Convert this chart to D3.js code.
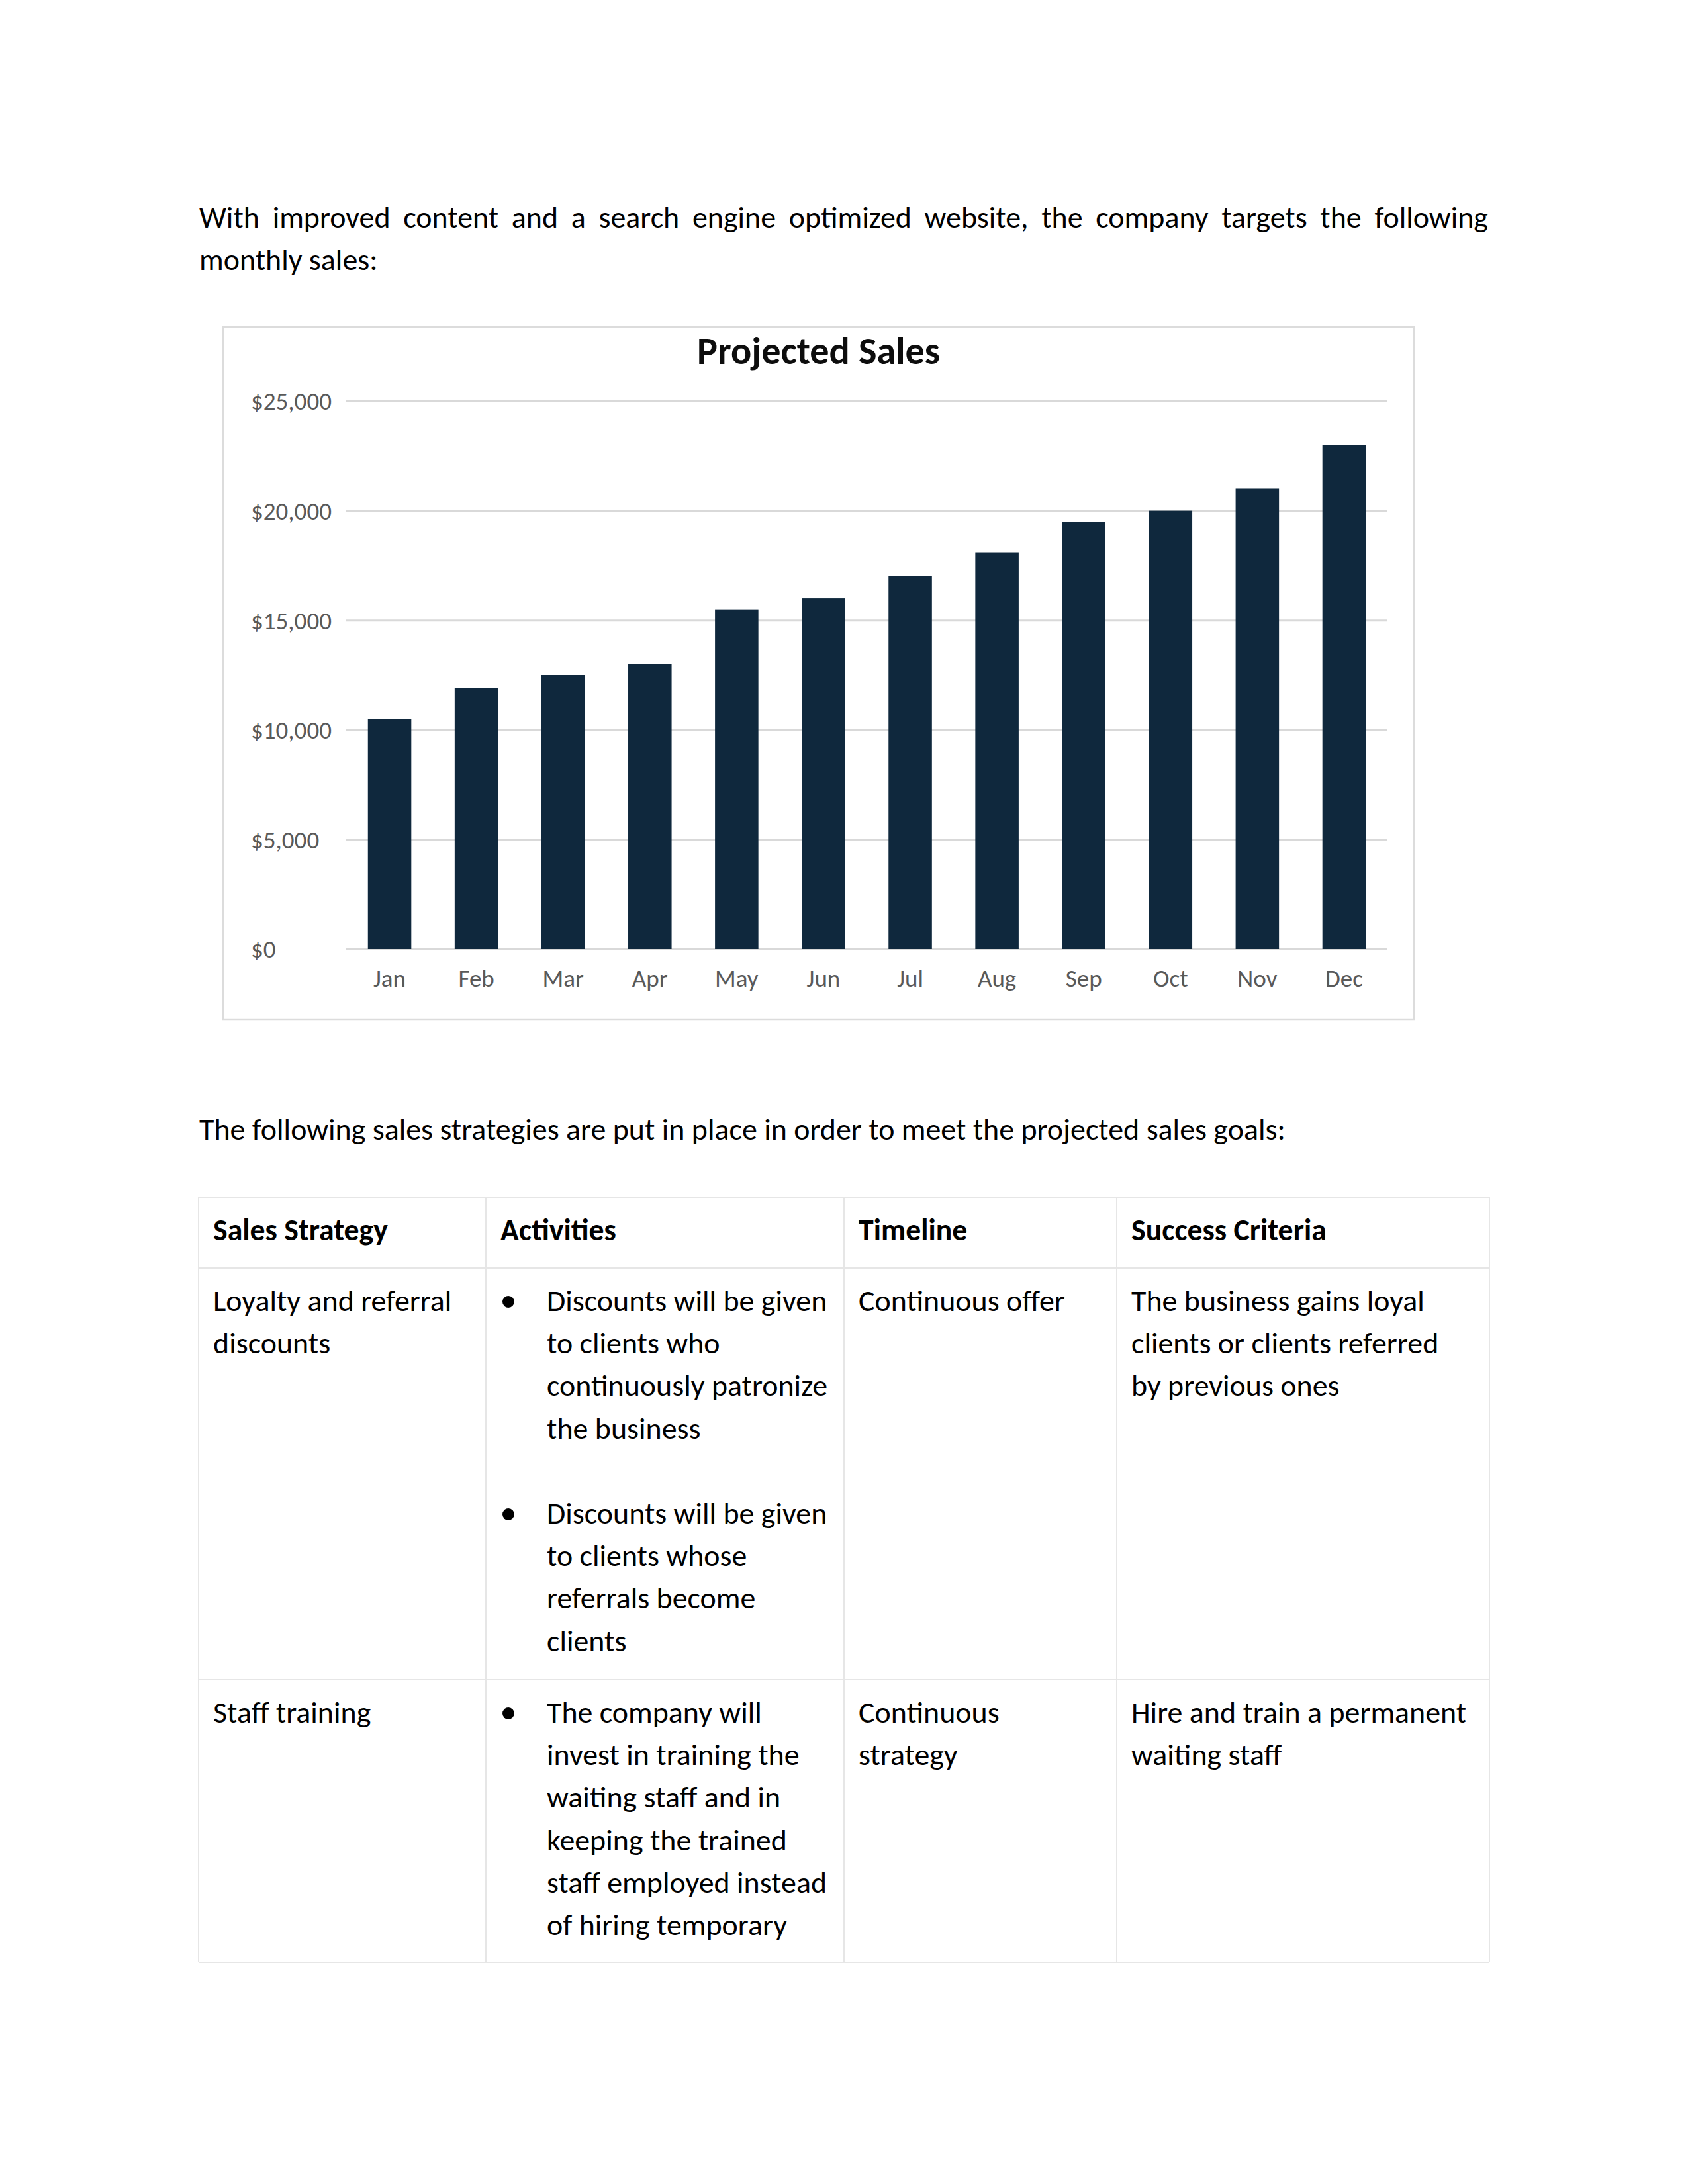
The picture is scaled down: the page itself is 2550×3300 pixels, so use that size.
<!DOCTYPE html>
<html>
<head>
<meta charset="utf-8">
<script src="https://cdn.jsdelivr.net/npm/d3@7"></script>
<style>
body { margin: 0; background: #fff; }
svg { display: block; }
</style>
</head>
<body>
<div id="page"></div>
<script>
// ---- data ----
var months = ['Jan', 'Feb', 'Mar', 'Apr', 'May', 'Jun', 'Jul', 'Aug', 'Sep', 'Oct', 'Nov', 'Dec'];
var sales = [10500, 11900, 12500, 13000, 15500, 16000, 17000, 18100, 19500, 20000, 21000, 23000];
var yTicks = [0, 5000, 10000, 15000, 20000, 25000];
var chartTitle = 'Projected Sales';

var introLines = [
	'With improved content and a search engine optimized website, the company targets the following',
	'monthly sales:'
];
var strategyText = 'The following sales strategies are put in place in order to meet the projected sales goals:';

var tableHeaders = ['Sales Strategy', 'Activities', 'Timeline', 'Success Criteria'];
var strategyCol = [
	['Loyalty and referral', 'discounts'],
	['Staff training']
];
var activityCol = [
	[['Discounts will be given', 'to clients who', 'continuously patronize', 'the business'],
	 ['Discounts will be given', 'to clients whose', 'referrals become', 'clients']],
	[['The company will', 'invest in training the', 'waiting staff and in', 'keeping the trained',
	  'staff employed instead', 'of hiring temporary']]
];
var timelineCol = [
	['Continuous offer'],
	['Continuous', 'strategy']
];
var criteriaCol = [
	['The business gains loyal', 'clients or clients referred', 'by previous ones'],
	['Hire and train a permanent', 'waiting staff']
];

// ---- page ----
var width = 2550,
	height = 3300;
var FONT = 'Carlito, Lato, sans-serif';

var svg = d3.select('#page')
	.append('svg')
	.attr('width', width)
	.attr('height', height)
	.style('font-family', FONT);

svg.append('rect')
	.attr('width', width)
	.attr('height', height)
	.attr('fill', '#fff');

// text measuring helper
var tmp = svg.append('text').attr('x', -9999).attr('y', -9999);
function measure(text, size, weight) {
	tmp.attr('font-size', size).attr('font-weight', weight).text(text);
	return tmp.node().getComputedTextLength();
}
function fitSize(text, weight, target) {
	return 100 * target / measure(text, 100, weight);
}

var bodySize = fitSize(strategyText, 400, 1641);
var headSize = fitSize('Sales Strategy', 700, 264);
var titleSize = fitSize(chartTitle, 700, 367);
var tickSize = fitSize('$25,000', 400, 122);
var lineH = 64.2;

/* ------------ intro paragraph (justified first line) ------------ */
var left = 301,
	right = 2248;
var words = introLines[0].split(' ');
var wordW = words.map(function(w) { return measure(w, bodySize, 400); });
var gap = (right - left - d3.sum(wordW)) / (words.length - 1);
var xpos = left;
var wordX = wordW.map(function(w) { var x0 = xpos; xpos += w + gap; return x0; });

svg.append('g').selectAll('text')
	.data(words)
	.enter()
	.append('text')
		.attr('x', function(d, i) { return wordX[i]; })
		.attr('y', 344)
		.attr('font-size', bodySize)
		.attr('fill', '#000')
		.text(function(d) { return d; });

svg.append('text')
	.attr('x', left)
	.attr('y', 344 + lineH)
	.attr('font-size', bodySize)
	.attr('fill', '#000')
	.text(introLines[1]);

/* ------------ chart ------------ */
var box = {x: 337, y: 494, w: 1799, h: 1046};
var plot = {left: 523, right: 2096, top: 606, bottom: 1434};

svg.append('rect')
	.attr('x', box.x)
	.attr('y', box.y)
	.attr('width', box.w)
	.attr('height', box.h)
	.attr('fill', '#fff')
	.attr('stroke', '#dcdcdc')
	.attr('stroke-width', 2.5);

svg.append('text')
	.attr('x', box.x + box.w / 2)
	.attr('y', 550)
	.attr('text-anchor', 'middle')
	.attr('font-size', titleSize)
	.attr('font-weight', 700)
	.attr('fill', '#0d0d0d')
	.text(chartTitle);

var x_scale = d3.scaleBand()
	.domain(months)
	.range([plot.left, plot.right])
	.paddingInner(0.5)
	.paddingOuter(0.25);

var y_scale = d3.scaleLinear()
	.domain([0, 25000])
	.range([plot.bottom, plot.top]);

var y_axis = d3.axisLeft(y_scale)
	.tickValues(yTicks)
	.tickSize(-(plot.right - plot.left))
	.tickFormat(function(d) { return '$' + d3.format(',')(d); });

var gy = svg.append('g')
	.attr('transform', 'translate(' + plot.left + ',0)')
	.call(y_axis);
gy.select('.domain').remove();
gy.selectAll('.tick line')
	.attr('stroke', '#d9d9d9')
	.attr('stroke-width', 3);
gy.selectAll('.tick text')
	.attr('x', 379 - plot.left)
	.attr('dy', '0.35em')
	.attr('text-anchor', 'start')
	.attr('font-family', FONT)
	.attr('font-size', tickSize)
	.attr('fill', '#595959');

svg.append('g').selectAll('rect')
	.data(sales)
	.enter()
	.append('rect')
		.attr('x', function(d, i) { return x_scale(months[i]); })
		.attr('y', function(d) { return y_scale(d); })
		.attr('width', x_scale.bandwidth())
		.attr('height', function(d) { return y_scale(0) - y_scale(d); })
		.attr('fill', '#0f283d');

var x_axis = d3.axisBottom(x_scale).tickSize(0);
var gx = svg.append('g')
	.attr('transform', 'translate(0,' + plot.bottom + ')')
	.call(x_axis);
gx.select('.domain').remove();
gx.selectAll('.tick text')
	.attr('y', 57)
	.attr('dy', 0)
	.attr('font-family', FONT)
	.attr('font-size', tickSize)
	.attr('fill', '#595959');

/* ------------ second paragraph ------------ */
svg.append('text')
	.attr('x', left)
	.attr('y', 1722)
	.attr('font-size', bodySize)
	.attr('fill', '#000')
	.text(strategyText);

/* ------------ table ------------ */
var colEdges = [300, 734, 1275, 1687, 2250];
var rowEdges = [1809, 1916, 2538, 2965];
var pad = 22,
	firstBase = 65;

var grid = svg.append('g')
	.attr('stroke', '#e6e6e6')
	.attr('stroke-width', 2);
grid.selectAll('.hl')
	.data(rowEdges)
	.enter()
	.append('line')
		.attr('x1', colEdges[0])
		.attr('x2', colEdges[colEdges.length - 1])
		.attr('y1', function(d) { return d; })
		.attr('y2', function(d) { return d; });
grid.selectAll('.vl')
	.data(colEdges)
	.enter()
	.append('line')
		.attr('x1', function(d) { return d; })
		.attr('x2', function(d) { return d; })
		.attr('y1', rowEdges[0])
		.attr('y2', rowEdges[rowEdges.length - 1]);

svg.append('g').selectAll('text')
	.data(tableHeaders)
	.enter()
	.append('text')
		.attr('x', function(d, i) { return colEdges[i] + pad; })
		.attr('y', rowEdges[0] + firstBase)
		.attr('font-size', headSize)
		.attr('font-weight', 700)
		.attr('fill', '#000')
		.text(function(d) { return d; });

function cellLines(lines, col, row) {
	svg.append('g').selectAll('text')
		.data(lines)
		.enter()
		.append('text')
			.attr('x', colEdges[col] + pad)
			.attr('y', function(d, i) { return rowEdges[row + 1] + firstBase + i * lineH; })
			.attr('font-size', bodySize)
			.attr('fill', '#000')
			.text(function(d) { return d; });
}

strategyCol.forEach(function(lines, r) { cellLines(lines, 0, r); });
timelineCol.forEach(function(lines, r) { cellLines(lines, 2, r); });
criteriaCol.forEach(function(lines, r) { cellLines(lines, 3, r); });

// bulleted activities, a blank line between bullets
activityCol.forEach(function(bullets, r) {
	var base = rowEdges[r + 1] + firstBase;
	var k = 0;
	bullets.forEach(function(lines) {
		svg.append('circle')
			.attr('cx', 768)
			.attr('cy', base + k * lineH - 14)
			.attr('r', 9)
			.attr('fill', '#000');
		lines.forEach(function(t) {
			svg.append('text')
				.attr('x', 826)
				.attr('y', base + k * lineH)
				.attr('font-size', bodySize)
				.attr('fill', '#000')
				.text(t);
			k++;
		});
		k++;
	});
});

tmp.remove();
</script>
</body>
</html>
